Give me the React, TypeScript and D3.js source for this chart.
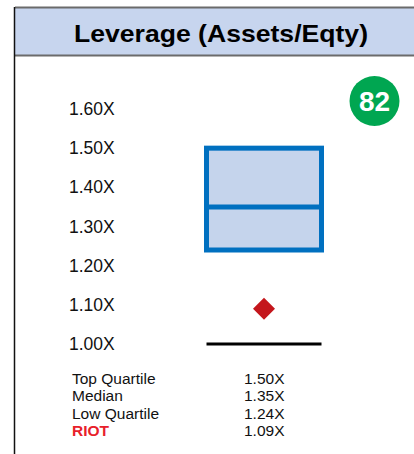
import React, { useEffect, useRef } from "react";
import * as d3 from "d3";

// values
const ticks = [1.0, 1.1, 1.2, 1.3, 1.4, 1.5, 1.6];
const statLabels = ["Top Quartile", "Median", "Low Quartile", "RIOT"];
const statValues = [1.5, 1.35, 1.24, 1.09];
const baseline = 1.0;
const score = "82";
const title = "Leverage (Assets/Eqty)";

const App = () => {
  const ref = useRef<SVGSVGElement>(null);

  useEffect(() => {
    const svg = d3.select(ref.current);
    svg.selectAll("*").remove();
    const font = "Liberation Sans, Arial, Helvetica, sans-serif";

    const [top, median, low, company] = statValues;

    // scales
    const y = d3.scaleLinear().domain([1.0, 1.6]).range([344, 109]);
    const x = d3.scaleBand().domain(["box"]).range([206.5, 321.5]).padding(0);
    const fmt = (v: number) => d3.format(".2f")(v) + "X";

    // header
    svg.append("rect")
      .attr("x", 15).attr("y", 8).attr("width", 399).attr("height", 47)
      .attr("fill", "#c7d5ee");
    svg.append("line")
      .attr("x1", 15).attr("x2", 414).attr("y1", 7.5).attr("y2", 7.5)
      .attr("stroke", "#6b6b6b").attr("stroke-width", 2);
    svg.append("line")
      .attr("x1", 15).attr("x2", 414).attr("y1", 55.5).attr("y2", 55.5)
      .attr("stroke", "#6b6b6b").attr("stroke-width", 2);
    svg.append("line")
      .attr("x1", 14.5).attr("x2", 14.5).attr("y1", 7).attr("y2", 454)
      .attr("stroke", "#111").attr("stroke-width", 1.5);
    svg.append("text")
      .attr("x", 74).attr("y", 41.5)
      .attr("textLength", 294).attr("lengthAdjust", "spacingAndGlyphs")
      .attr("font-family", font).attr("font-weight", "bold").attr("font-size", 24)
      .attr("fill", "#000")
      .text(title);

    // y labels
    svg.selectAll(".tick")
      .data(ticks)
      .enter()
      .append("text")
      .attr("class", "tick")
      .attr("x", 69)
      .attr("y", d => y(d) + 6)
      .attr("font-family", font).attr("font-size", 17.5)
      .attr("fill", "#111")
      .text(d => fmt(d));

    // box
    const g = svg.append("g");
    g.append("rect")
      .attr("x", x("box")!)
      .attr("y", y(top))
      .attr("width", x.bandwidth())
      .attr("height", y(low) - y(top))
      .attr("fill", "#c5d4ec")
      .attr("stroke", "#0070c0")
      .attr("stroke-width", 5);
    g.append("line")
      .attr("x1", x("box")!).attr("x2", x("box")! + x.bandwidth())
      .attr("y1", y(median)).attr("y2", y(median))
      .attr("stroke", "#0070c0").attr("stroke-width", 5);

    // baseline
    g.append("line")
      .attr("x1", x("box")!).attr("x2", x("box")! + x.bandwidth())
      .attr("y1", y(baseline)).attr("y2", y(baseline))
      .attr("stroke", "#000").attr("stroke-width", 3);

    // company marker
    g.append("path")
      .attr("d", d3.symbol().type(d3.symbolDiamond2).size(310)())
      .attr("transform", `translate(${x("box")! + x.bandwidth() / 2},${y(company)})`)
      .attr("fill", "#c4161c");

    // score badge
    svg.append("circle")
      .attr("cx", 374.5).attr("cy", 101).attr("r", 25)
      .attr("fill", "#00a651");
    svg.append("text")
      .attr("x", 374.5).attr("y", 111)
      .attr("text-anchor", "middle")
      .attr("font-family", font).attr("font-weight", "bold").attr("font-size", 28)
      .attr("fill", "#fff")
      .text(score);

    // stats table
    const rows = svg.append("g");
    statLabels.forEach((label, i) => {
      const isCo = i === statLabels.length - 1;
      rows.append("text")
        .attr("x", 72).attr("y", 384 + i * 17.3)
        .attr("font-family", font).attr("font-size", 15.5)
        .attr("font-weight", isCo ? "bold" : "normal")
        .attr("fill", isCo ? "#e8202a" : "#111")
        .text(label);
      rows.append("text")
        .attr("x", 244).attr("y", 384 + i * 17.3)
        .attr("font-family", font).attr("font-size", 15.5)
        .attr("fill", "#111")
        .text(fmt(statValues[i]));
    });
  }, []);

  return (
    <svg ref={ref} width={414} height={454}
      style={{ position: "absolute", left: 0, top: 0, background: "#fff" }} />
  );
};

export default App;
